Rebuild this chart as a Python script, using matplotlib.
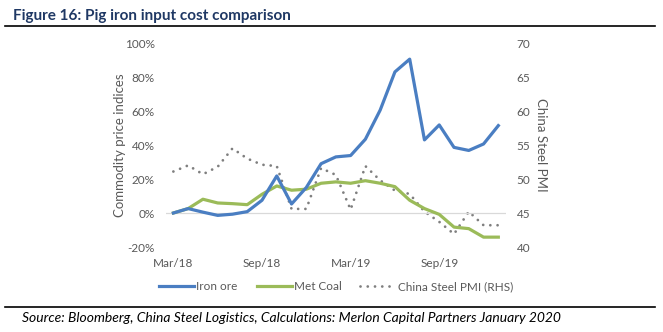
import matplotlib
matplotlib.use("Agg")
import matplotlib.pyplot as plt
from matplotlib.lines import Line2D
from matplotlib.ticker import FuncFormatter, FixedLocator

# ---- data ----
months = ["Mar/18", "Apr/18", "May/18", "Jun/18", "Jul/18", "Aug/18", "Sep/18",
          "Oct/18", "Nov/18", "Dec/18", "Jan/19", "Feb/19", "Mar/19", "Apr/19",
          "May/19", "Jun/19", "Jul/19", "Aug/19", "Sep/19", "Oct/19", "Nov/19",
          "Dec/19", "Jan/20"]
iron_ore = [0.0, 2.6, 0.5, -1.4, -0.7, 0.8, 7.5, 21.8, 5.3, 15.0, 29.0, 33.0,
            33.8, 43.4, 60.5, 83.0, 90.5, 43.0, 51.8, 38.6, 36.8, 40.6, 51.4]
met_coal = [0.0, 2.6, 8.1, 5.9, 5.5, 4.9, 11.0, 15.9, 13.4, 14.0, 17.5, 18.3,
            17.5, 19.0, 17.5, 15.5, 7.5, 2.6, -0.8, -8.3, -9.2, -14.2, -14.2]
pmi = [51.1, 52.0, 50.7, 51.8, 54.5, 53.0, 52.1, 51.9, 45.6, 45.6, 51.6, 50.6,
       45.5, 51.9, 49.8, 48.3, 47.8, 45.2, 43.7, 41.9, 45.2, 43.2, 43.2]
xtick_labels = ["Mar/18", "Sep/18", "Mar/19", "Sep/19"]
left_ticks = [-20, 0, 20, 40, 60, 80, 100]
right_ticks = [40, 45, 50, 55, 60, 65, 70]

FONT = "Lato"
plt.rcParams['font.family'] = [FONT, 'DejaVu Sans']
TXT = "#595959"

W, H = 663, 332
fig = plt.figure(figsize=(W / 100, H / 100), dpi=100)

def px(x0, y0, x1, y1):
    return [x0 / W, 1 - y1 / H, (x1 - x0) / W, (y1 - y0) / H]

ax = fig.add_axes(px(166, 43, 505.7, 247))
ax2 = ax.twinx()

x = list(range(len(months)))
ax.plot(x, iron_ore, color="#4A7EC2", lw=2.3, zorder=3, label="Iron ore")
ax.plot(x, met_coal, color="#9BBB59", lw=2.3, zorder=2, label="Met Coal")
ax2.plot(x, pmi, color="#7F7F7F", lw=2.0, linestyle=(0, (0.01, 2.6)),
         dash_capstyle="round", label="China Steel PMI (RHS)")
ax.set_zorder(ax2.get_zorder() + 1)
ax.patch.set_visible(False)

ax.axhline(0, color="#D9D9D9", lw=0.9, zorder=1)

ax.set_xlim(-0.5, len(months) - 0.5)
ax.set_ylim(-20, 100)
ax2.set_ylim(40, 70)

ax.yaxis.set_major_locator(FixedLocator(left_ticks))
ax.yaxis.set_major_formatter(FuncFormatter(lambda v, p: f"{int(v)}%"))
ax2.yaxis.set_major_locator(FixedLocator(right_ticks))

xt = [months.index(m) for m in xtick_labels]
ax.set_xticks(xt)
ax.set_xticklabels(xtick_labels)

for a in (ax, ax2):
    for s in a.spines.values():
        s.set_visible(False)
    a.tick_params(length=0, colors=TXT, labelsize=8.5)
ax.tick_params(axis="y", pad=8)
ax2.tick_params(axis="y", pad=8)
ax.tick_params(axis="x", pad=8)

ax.set_ylabel("Commodity price indices", color=TXT, fontsize=9.5, labelpad=-1)
ax2.set_ylabel("China Steel PMI", color=TXT, fontsize=9.5, rotation=-90,
               labelpad=12)

handles = [Line2D([], [], color="#4A7EC2", lw=2.3),
           Line2D([], [], color="#9BBB59", lw=2.3),
           Line2D([], [], color="#7F7F7F", lw=2.0, linestyle=(0, (0.01, 2.6)),
                  dash_capstyle="round")]
leg = fig.legend(handles, ["Iron ore", "Met Coal", "China Steel PMI (RHS)"],
                 loc="center", bbox_to_anchor=(336 / W, 1 - 287 / H), ncol=3,
                 frameon=False, fontsize=8.5, handlelength=3.0,
                 handletextpad=0.15, columnspacing=1.6, labelcolor=TXT)

# Title and rules
fig.text(13 / W, 1 - 16 / H, "Figure 16: Pig iron input cost comparison",
         fontsize=11, fontweight="bold", color="#1F3864", va="center", ha="left")
fig.add_artist(Line2D([5 / W, 655 / W], [1 - 26 / H, 1 - 26 / H],
                      color="black", lw=1.2))
fig.add_artist(Line2D([5 / W, 655 / W], [1 - 307 / H, 1 - 307 / H],
                      color="black", lw=1.2))
fig.text(22 / W, 1 - 318 / H,
         "Source: Bloomberg, China Steel Logistics, Calculations: Merlon Capital Partners January 2020",
         fontsize=10, style="italic", color="black", va="center", ha="left")

fig.savefig("out.png", dpi=100)
